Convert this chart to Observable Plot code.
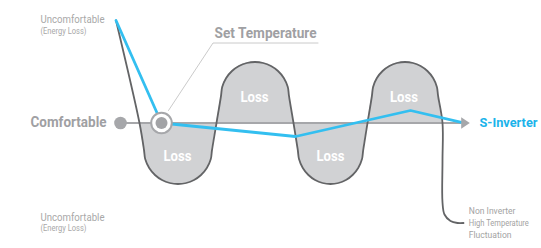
<!DOCTYPE html>
<html><head><meta charset="utf-8">
<script src="https://cdn.jsdelivr.net/npm/d3@7"></script>
<script src="https://cdn.jsdelivr.net/npm/@observablehq/plot@0.6"></script>
<style>html,body{margin:0;padding:0;background:#fff;} svg{display:block}</style>
</head><body><div id="chart"></div>
<script>
// ---- data (x: time, v: temperature offset from set point; 0 = comfortable) ----
const nonInverterX = [115.5,
  139, 143.5, 144.7, 148.7, 154.5, 161.5, 169.3, 177.5, 185.7, 193.5, 200.5, 206.3, 210.3, 211.5, 216,
  220.5, 221.7, 225.7, 231.5, 238.5, 246.3, 254.5, 262.7, 270.5, 277.5, 283.3, 287.3, 288.5, 293,
  297.3, 298.5, 302.3, 307.9, 314.6, 322.1, 330, 337.9, 345.4, 352.1, 357.7, 361.5, 362.7, 367,
  371.4, 372.6, 376.4, 382.1, 388.9, 396.5, 404.5, 412.5, 420.1, 426.9, 432.6, 436.4, 437.6, 442,
  442, 442, 444, 450, 457, 463];
const nonInverterV = [10.25,
  0, -2.7, -3.6, -4.5, -5.2, -5.7, -6.0, -6.1, -6.0, -5.7, -5.2, -4.5, -3.6, -2.7, 0,
  2.7, 3.6, 4.5, 5.2, 5.7, 6.0, 6.1, 6.0, 5.7, 5.2, 4.5, 3.6, 2.7, 0,
  -2.7, -3.6, -4.5, -5.2, -5.7, -6.0, -6.1, -6.0, -5.7, -5.2, -4.5, -3.6, -2.7, 0,
  2.7, 3.6, 4.5, 5.2, 5.7, 6.0, 6.1, 6.0, 5.7, 5.2, 4.5, 3.6, 2.7, 0,
  -3.75, -7.95, -9.15, -9.8, -10, -10];
const sInverterX = [115.5, 161, 295, 410, 461];
const sInverterV = [10.25, 0, -1.35, 1.25, 0.07];

const comfortStartX = 120, comfortEndX = 461, arrowX = 463.6;
const setPointX = 161;
const leaderX = [168, 212.5, 317.5];
const leaderV = [1.25, 8.0, 8.0];

const lossX = [177, 254, 330, 403.5];
const lossV = [-3.75, 2.15, -3.75, 2.15];

const uncomfText = ["Uncomfortable", "Uncomfortable"];
const uncomfV = [9.98, -9.75];
const energyText = ["(Energy Loss)", "(Energy Loss)"];
const energyV = [8.9, -10.82];
const leftLabelX = 40;

const noteText = ["Non Inverter", "High Temperature", "Fluctuation"];
const noteV = [-9.08, -10.32, -11.48];
const noteX = 468.3;

// target rendered widths (condensed face emulation)
const textWidths = {"Uncomfortable":64, "(Energy Loss)":46, "Comfortable":76, "Set Temperature":102,
  "S-Inverter":58, "Loss":28, "Non Inverter":46.7, "High Temperature":60, "Fluctuation":42.7};

// ---- build ----
const ni = nonInverterX.map((x, i) => ({x, v: nonInverterV[i]}));
const lastCross = ni.findIndex((d, i) => i > 40 && d.x === 442 && d.v === 0);
const niArea = ni.slice(1, lastCross + 1);
const si = sInverterX.map((x, i) => ({x, v: sInverterV[i]}));
const leader = leaderX.map((x, i) => ({x, v: leaderV[i]}));
const loss = lossX.map((x, i) => ({x, v: lossV[i]}));
const uncomf = uncomfText.map((t, i) => ({t, v: uncomfV[i]}));
const energy = energyText.map((t, i) => ({t, v: energyV[i]}));
const notes = noteText.map((t, i) => ({t, v: noteV[i]}));

const gray = "#a6a7aa", blue = "#33bff0", dark = "#636466", fillGray = "#d1d2d4";
const arrowSymbol = {draw(ctx) { ctx.moveTo(-2.9, -5.8); ctx.lineTo(5.7, 0); ctx.lineTo(-2.9, 5.8); ctx.closePath(); }};

const chart = Plot.plot({
  width: 541, height: 248, margin: 0,
  x: {domain: [0, 541], axis: null},
  y: {domain: [-12.55, 12.25], axis: null},
  style: {background: "white", fontFamily: "Roboto, sans-serif"},
  marks: [
    Plot.areaY(niArea, {x: "x", y1: 0, y2: "v", curve: "catmull-rom", fill: fillGray}),
    Plot.ruleY([0], {x1: comfortStartX, x2: comfortEndX, stroke: gray, strokeWidth: 2.2}),
    Plot.line(ni, {x: "x", y: "v", curve: "catmull-rom", stroke: dark, strokeWidth: 1.8}),
    Plot.line(leader, {x: "x", y: "v", stroke: "#bdbdbd", strokeWidth: 0.8}),
    Plot.line(si, {x: "x", y: "v", stroke: blue, strokeWidth: 2.8, strokeLinejoin: "miter"}),
    Plot.dot([0], {x: arrowX, y: 0, symbol: arrowSymbol, fill: gray, r: 4}),
    Plot.dot([0], {x: comfortStartX, y: 0, r: 6.3, fill: gray}),
    Plot.dot([0], {x: setPointX, y: 0, r: 10.3, fill: "white", stroke: gray, strokeWidth: 2}),
    Plot.dot([0], {x: setPointX, y: 0, r: 6, fill: "#a2a3a6"}),
    Plot.text(loss, {x: "x", y: "v", text: () => "Loss", fill: "white", fontSize: 14, fontWeight: 700, lineAnchor: "bottom"}),
    Plot.text(uncomf, {x: leftLabelX, y: "v", text: "t", fill: "#a8a8a8", fontSize: 10.8, textAnchor: "start", lineAnchor: "bottom"}),
    Plot.text(energy, {x: leftLabelX, y: "v", text: "t", fill: "#a8a8a8", fontSize: 8.2, textAnchor: "start", lineAnchor: "bottom"}),
    Plot.text(["Comfortable"], {x: 106, y: -0.42, text: d => d, fill: "#9fa0a3", fontSize: 14, fontWeight: 700, textAnchor: "end", lineAnchor: "bottom"}),
    Plot.text(["S-Inverter"], {x: 479, y: -0.42, text: d => d, fill: "#1bb3ea", fontSize: 13.5, fontWeight: 700, textAnchor: "start", lineAnchor: "bottom"}),
    Plot.text(["Set Temperature"], {x: 214, y: 8.55, text: d => d, fill: "#9fa0a3", fontSize: 14, fontWeight: 700, textAnchor: "start", lineAnchor: "bottom"}),
    Plot.text(notes, {x: noteX, y: "v", text: "t", fill: "#a3a3a3", fontSize: 8.7, textAnchor: "start", lineAnchor: "bottom"})
  ]
});
document.getElementById("chart").appendChild(chart);
chart.querySelectorAll("text").forEach(t => {
  const w = textWidths[t.textContent];
  if (w) { t.setAttribute("textLength", w); t.setAttribute("lengthAdjust", "spacingAndGlyphs"); }
});
</script></body></html>
